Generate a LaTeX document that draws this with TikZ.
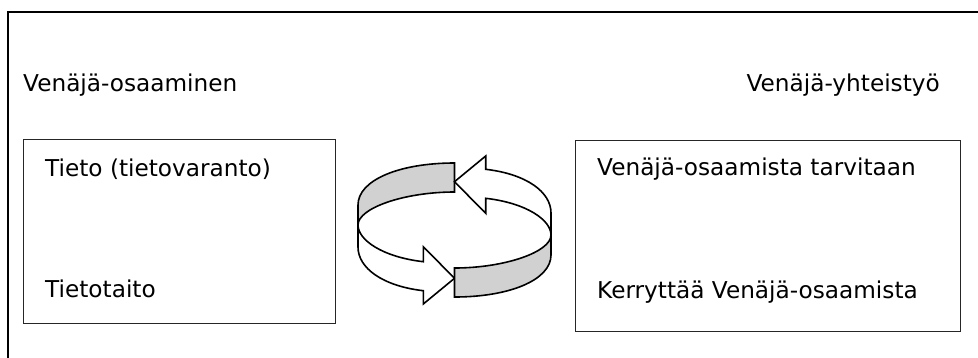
\documentclass[tikz,border=0pt]{standalone}
\usepackage{fontspec}
\setmainfont{DejaVu Sans}
\begin{document}
\begin{tikzpicture}[x=1pt,y=-1pt,
  lbl/.style={anchor=base west, inner sep=0pt, font=\fontsize{23.2}{28}\selectfont},
  lblr/.style={lbl, anchor=base east},
  panel/.style={draw=black!85, line width=1.2pt, inner sep=0pt, anchor=north west},
  band/.style={draw=black, line width=1.6pt, line join=miter, fill=black!18},
  shaft/.style={draw=black, line width=1.6pt, line join=miter, fill=white}]
\useasboundingbox (0,0) rectangle (978,357);
\clip (0,0) rectangle (978,357);

% outer frame (open to the right and bottom)
\draw[line width=2pt] (8,360) -- (8,12) -- (980,12);

% headings
\node[lbl]  (hleft)  at (23,91)  {Venäjä-osaaminen};
\node[lblr] (hright) at (940,91) {Venäjä-yhteistyö};

% the two panels
\node[panel, minimum width=312pt, minimum height=184pt] (pleft)  at (23,139)  {};
\node[panel, minimum width=385pt, minimum height=191pt] (pright) at (575,140) {};

\node[lbl] (l1) at (45,176)  {Tieto (tietovaranto)};
\node[lbl] (l2) at (45,297)  {Tietotaito};
\node[lbl] (r1) at (597,175) {Venäjä-osaamista tarvitaan};
\node[lbl] (r2) at (597,298) {Kerryttää Venäjä-osaamista};

% circular double arrow: two identical halves, the second turned by 180 degrees
\coordinate (cyc) at (454.5,230);
\foreach \ang in {0,180}{
  \begin{scope}[shift={(cyc)}, rotate=\ang]
    % shaded inner face of the band
    \path[band] (0,-67) .. controls (-55,-67) and (-96.5,-50) .. (-96.5,-25)
      -- (-96.5,-5) .. controls (-96.5,-22) and (-50,-38) .. (0,-38) -- cycle;
    % white outer face ending in an arrowhead
    \path[shaft] (-96.5,-5) .. controls (-96.5,10) and (-72,27) .. (-31.2,31.7)
      -- (-31.2,16.7) -- (0,48.3) -- (-31.2,74) -- (-31.2,60.7)
      .. controls (-72,56) and (-96.5,38) .. (-96.5,17) -- cycle;
  \end{scope}
}
\end{tikzpicture}
\end{document}
